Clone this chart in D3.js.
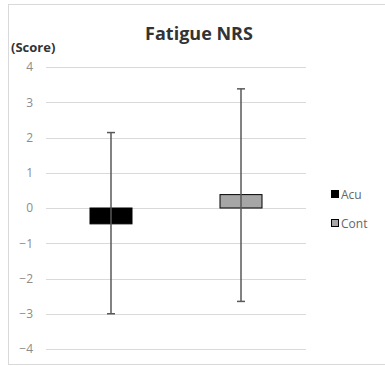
<!DOCTYPE html>
<html>
<head>
<meta charset="utf-8">
<script src="https://cdn.jsdelivr.net/npm/d3@7"></script>
<style>
  body { margin: 0; background: #fff; }
  svg { font-family: "Open Sans", sans-serif; }
</style>
</head>
<body>
<script>
const w = 385;
const h = 366;

const groups = ['Acu', 'Cont'];
const means = [-0.45, 0.38];
const errHigh = [2.14, 3.38];
const errLow = [-3.0, -2.65];
const yTicks = [4, 3, 2, 1, 0, -1, -2, -3, -4];
const fills = ['#000000', '#a6a6a6'];

const svg = d3.select('body').append('svg')
    .attr('width', w)
    .attr('height', h);

// chart frame
svg.append('rect')
    .attr('x', 8.5).attr('y', 4.5)
    .attr('width', 400).attr('height', 360)
    .attr('fill', 'none')
    .attr('stroke', '#d9d9d9');

const x = d3.scaleBand().domain(groups).range([46, 306]).paddingInner(0).paddingOuter(0);
const y = d3.scaleLinear().domain([-4, 4]).range([349, 67]);

// grid lines
svg.selectAll('line.grid')
    .data(yTicks)
    .enter()
    .append('line')
        .attr('class', 'grid')
        .attr('x1', 46).attr('x2', 306)
        .attr('y1', d => Math.round(y(d)) + 0.5)
        .attr('y2', d => Math.round(y(d)) + 0.5)
        .attr('stroke', '#d9d9d9')
        .attr('stroke-width', 1);

// y axis labels
const yAxis = d3.axisLeft(y).tickValues(yTicks).tickSize(0).tickPadding(0);
const gy = svg.append('g').attr('transform', 'translate(33,0)').call(yAxis);
gy.select('.domain').remove();
gy.selectAll('text')
    .attr('fill', '#8c8c8c')
    .attr('font-size', 12)
    .style('font-family', '"Open Sans", sans-serif');

const barW = 42;

// bars
svg.selectAll('rect.bar')
    .data(groups)
    .enter()
    .append('rect')
        .attr('class', 'bar')
        .attr('x', d => x(d) + x.bandwidth() / 2 - barW / 2)
        .attr('width', barW)
        .attr('y', (d, i) => y(Math.max(0, means[i])))
        .attr('height', (d, i) => Math.abs(y(means[i]) - y(0)))
        .attr('fill', (d, i) => fills[i])
        .attr('stroke', '#000')
        .attr('stroke-width', 1);

// error bars
const err = svg.selectAll('g.err')
    .data(groups)
    .enter()
    .append('g')
        .attr('class', 'err')
        .attr('stroke', '#595959')
        .attr('stroke-width', 1.5);

err.append('line')
    .attr('x1', d => x(d) + x.bandwidth() / 2)
    .attr('x2', d => x(d) + x.bandwidth() / 2)
    .attr('y1', (d, i) => y(errHigh[i]))
    .attr('y2', (d, i) => y(errLow[i]));

err.append('line')
    .attr('x1', d => x(d) + x.bandwidth() / 2 - 4)
    .attr('x2', d => x(d) + x.bandwidth() / 2 + 4)
    .attr('y1', (d, i) => y(errHigh[i]))
    .attr('y2', (d, i) => y(errHigh[i]));

err.append('line')
    .attr('x1', d => x(d) + x.bandwidth() / 2 - 4)
    .attr('x2', d => x(d) + x.bandwidth() / 2 + 4)
    .attr('y1', (d, i) => y(errLow[i]))
    .attr('y2', (d, i) => y(errLow[i]));

// title
svg.append('text')
    .text('Fatigue NRS')
    .attr('x', 199).attr('y', 40)
    .attr('text-anchor', 'middle')
    .attr('font-size', 18)
    .attr('font-weight', 'bold')
    .attr('fill', '#333');

svg.append('text')
    .text('(Score)')
    .attr('x', 11).attr('y', 52)
    .attr('font-size', 13)
    .attr('font-weight', 'bold')
    .attr('fill', '#333');

// legend
const legend = svg.selectAll('g.legend')
    .data(groups)
    .enter()
    .append('g')
        .attr('class', 'legend')
        .attr('transform', (d, i) => `translate(331,${190 + i * 29})`);

legend.append('rect')
    .attr('x', 0.5).attr('y', 0.5)
    .attr('width', 7).attr('height', 7)
    .attr('fill', (d, i) => fills[i])
    .attr('stroke', '#000');

legend.append('text')
    .text(d => d)
    .attr('x', 10).attr('y', 9)
    .attr('font-size', 12)
    .attr('fill', '#666');
</script>
</body>
</html>
